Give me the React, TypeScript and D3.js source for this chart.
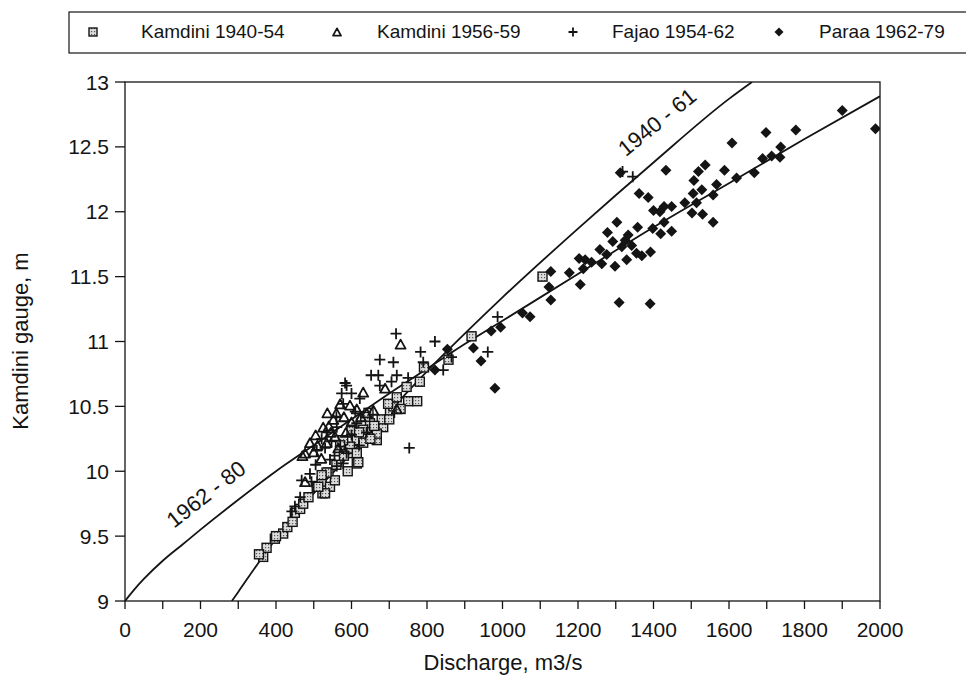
import React from "react";
import * as d3 from "d3";

// ---- data ----
const kam4054Q = [366,375,397,419,430,444,450,464,472,486,508,521,539,523,543,556,614,918,857,781,750,774,667,618,684,702,711,720,746,649,645,631,614,596,667,680,697,534,530,521,512,596,578,614,631,600,636,1106,355,400,792,560,580,590,650,660,700,730,620,570];
const kam4054H = [9.34,9.41,9.48,9.52,9.57,9.61,9.68,9.71,9.75,9.80,9.88,9.92,9.99,9.83,9.88,9.93,10.06,11.04,10.86,10.69,10.54,10.54,10.24,10.07,10.34,10.45,10.50,10.57,10.65,10.37,10.45,10.32,10.24,10.19,10.29,10.40,10.52,9.99,9.83,9.97,9.88,10.14,10.24,10.14,10.22,10.32,10.42,11.50,9.36,9.50,10.80,10.05,10.12,10.00,10.25,10.35,10.40,10.48,10.30,10.20];

const kam5659Q = [730,631,689,596,536,580,552,490,477,525,720,614,477,534,556,658,570,505,545,600,640,470,565,510,520,540,585,625,560,500];
const kam5659H = [10.98,10.61,10.64,10.51,10.45,10.42,10.40,10.22,10.14,10.34,10.48,10.48,9.92,10.22,10.27,10.47,10.52,10.28,10.30,10.38,10.45,10.12,10.18,10.20,10.10,10.35,10.30,10.42,10.45,10.15];

const fajQ = [718,821,783,675,711,790,652,671,720,750,706,675,587,574,600,843,753,622,614,578,561,534,521,508,547,570,587,543,561,578,468,494,464,450,442,987,961,865,583,1318,1345,530,555,600,620,640,505,490,560,610];
const fajH = [11.06,11.0,10.92,10.86,10.84,10.84,10.74,10.74,10.74,10.72,10.69,10.66,10.66,10.60,10.60,10.78,10.18,10.56,10.37,10.52,10.34,10.30,10.25,10.16,10.23,10.19,10.14,10.09,10.04,10.06,9.93,9.92,9.80,9.73,9.69,11.19,10.92,10.88,10.68,12.31,12.27,10.18,10.12,10.28,10.20,10.30,10.05,9.98,10.42,10.46];

const paraaQ = [821,854,923,943,970,995,980,1053,1073,1128,1123,1128,1177,1206,1203,1219,1236,1214,1258,1263,1276,1298,1292,1278,1303,1309,1391,1316,1325,1333,1342,1329,1355,1369,1358,1392,1398,1419,1448,1428,1400,1417,1428,1448,1362,1386,1483,1900,1988,1777,1698,1737,1735,1713,1689,1667,1608,1588,1620,1537,1519,1507,1528,1505,1514,1502,1530,1558,1567,1558,1433,1312];
const paraaH = [10.78,10.94,10.95,10.85,11.08,11.11,10.64,11.22,11.19,11.54,11.42,11.32,11.53,11.44,11.64,11.63,11.61,11.56,11.71,11.60,11.67,11.58,11.77,11.84,11.92,11.30,11.29,11.73,11.78,11.82,11.74,11.63,11.68,11.66,11.88,11.69,11.87,11.83,11.85,11.92,12.01,12.00,12.04,12.04,12.14,12.11,12.07,12.78,12.64,12.63,12.61,12.50,12.42,12.43,12.41,12.30,12.53,12.32,12.26,12.36,12.31,12.24,12.17,12.14,12.07,11.99,11.98,11.92,12.21,12.13,12.32,12.30];

// rating curves
const curve6280Q = [0,25,50,100,150,200,300,400,500,600,700,800,900,1000,1200,1400,1600,1800,2000];
const curve6280H = [9.0,9.09,9.17,9.31,9.43,9.55,9.78,10.0,10.2,10.4,10.6,10.79,10.98,11.16,11.52,11.88,12.22,12.56,12.89];
const curve4061Q = [283,300,350,400,500,600,700,800,900,1000,1200,1400,1600,1661];
const curve4061H = [9.0,9.07,9.28,9.48,9.83,10.14,10.46,10.77,11.06,11.34,11.87,12.38,12.87,13.0];

const xTicksMajor = [0,200,400,600,800,1000,1200,1400,1600,1800,2000];
const xTicksMinor = [0,100,200,300,400,500,600,700,800,900,1000,1100,1200,1300,1400,1500,1600,1700,1800,1900,2000];
const yTicks = [9,9.5,10,10.5,11,11.5,12,12.5,13];
const yTickLabels = ["9","9.5","10","10.5","11","11.5","12","12.5","13"];

const legendLabels = ["Kamdini 1940-54","Kamdini 1956-59","Fajao 1954-62","Paraa 1962-79"];

const FONT = "'Liberation Sans', Arial, Helvetica, sans-serif";
const INK = "#141414";

const x = d3.scaleLinear().domain([0, 2000]).range([125, 880]);
const y = d3.scaleLinear().domain([9, 13]).range([601, 82]);

function Square({ cx, cy, s = 9 }: { cx: number; cy: number; s?: number }) {
  return <rect x={cx - s / 2} y={cy - s / 2} width={s} height={s} fill="url(#speck)" stroke={INK} strokeWidth={1.4} />;
}
function Tri({ cx, cy, s = 10 }: { cx: number; cy: number; s?: number }) {
  const h = s * 0.9;
  return (
    <path d={`M${cx},${cy - h / 2}L${cx + s / 2},${cy + h / 2}L${cx - s / 2},${cy + h / 2}Z`} fill="none" stroke={INK} strokeWidth={1.8} strokeLinejoin="round" />
  );
}
function Plus({ cx, cy, s = 11 }: { cx: number; cy: number; s?: number }) {
  return <path d={`M${cx - s / 2},${cy}H${cx + s / 2}M${cx},${cy - s / 2}V${cy + s / 2}`} stroke={INK} strokeWidth={1.8} fill="none" />;
}
function Diamond({ cx, cy, s = 11 }: { cx: number; cy: number; s?: number }) {
  const r = s / 2;
  return <path d={`M${cx},${cy - r}L${cx + r},${cy}L${cx},${cy + r}L${cx - r},${cy}Z`} fill={INK} />;
}

export default function App() {
  const line = d3.line<[number, number]>().x((d) => x(d[0])).y((d) => y(d[1])).curve(d3.curveMonotoneX);
  const c6280 = line(curve6280Q.map((q, i) => [q, curve6280H[i]] as [number, number])) || "";
  const c4061 = line(curve4061Q.map((q, i) => [q, curve4061H[i]] as [number, number])) || "";

  const legendMarkX = [93, 337, 573, 779];
  const legendTextX = [141, 377, 612, 819];

  return (
    <svg width={966} height={678} style={{ position: "absolute", left: 0, top: 0, background: "#fff" }} fontFamily={FONT}>
      <defs>
        <pattern id="speck" width="3" height="3" patternUnits="userSpaceOnUse">
          <rect width="3" height="3" fill="#dcdcdc" />
          <rect x="1" y="1" width="1.2" height="1.2" fill="#555" />
        </pattern>
        <clipPath id="plotclip">
          <rect x={125} y={82} width={755} height={519} />
        </clipPath>
      </defs>
      <rect width={966} height={678} fill="#fff" />

      {/* legend */}
      <rect x={69} y={12} width={905} height={41} fill="none" stroke={INK} strokeWidth={1.2} />
      <Square cx={legendMarkX[0]} cy={32} s={8} />
      <Tri cx={legendMarkX[1]} cy={32} s={8} />
      <Plus cx={legendMarkX[2]} cy={32} s={9} />
      <Diamond cx={legendMarkX[3]} cy={32} s={9} />
      {legendLabels.map((t, i) => (
        <text key={t} x={legendTextX[i]} y={38} fontSize={19} fill={INK}>{t}</text>
      ))}

      {/* frame */}
      <rect x={125} y={82} width={755} height={519} fill="none" stroke={INK} strokeWidth={1.3} />

      {/* y ticks */}
      {yTicks.map((t, i) => (
        <g key={t}>
          <line x1={115} x2={125} y1={y(t)} y2={y(t)} stroke={INK} strokeWidth={1.3} />
          <text x={109} y={y(t)} dy="0.36em" textAnchor="end" fontSize={21} fill={INK}>{yTickLabels[i]}</text>
        </g>
      ))}
      {/* x ticks */}
      {xTicksMinor.map((t) => (
        <line key={t} x1={x(t)} x2={x(t)} y1={601} y2={609} stroke={INK} strokeWidth={1.3} />
      ))}
      {xTicksMajor.map((t) => (
        <text key={t} x={x(t)} y={637} textAnchor="middle" fontSize={21} fill={INK}>{t}</text>
      ))}

      {/* axis titles */}
      <text x={503} y={670} textAnchor="middle" fontSize={22} fill={INK}>Discharge, m3/s</text>
      <text transform={`translate(28,341) rotate(-90)`} textAnchor="middle" fontSize={22} fill={INK}>Kamdini gauge, m</text>

      <g clipPath="url(#plotclip)">
        {/* curves */}
        <path d={c6280} fill="none" stroke={INK} strokeWidth={1.8} />
        <path d={c4061} fill="none" stroke={INK} strokeWidth={1.8} />

        {/* points */}
        {kam4054Q.map((q, i) => <Square key={"s" + i} cx={x(q)} cy={y(kam4054H[i])} />)}
        {kam5659Q.map((q, i) => <Tri key={"t" + i} cx={x(q)} cy={y(kam5659H[i])} />)}
        {fajQ.map((q, i) => <Plus key={"p" + i} cx={x(q)} cy={y(fajH[i])} />)}
        {paraaQ.map((q, i) => <Diamond key={"d" + i} cx={x(q)} cy={y(paraaH[i])} />)}
      </g>

      {/* curve labels */}
      <text transform={`translate(206,494) rotate(-38)`} textAnchor="middle" dy="0.35em" fontSize={22} fill={INK}>1962 - 80</text>
      <text transform={`translate(657,122) rotate(-39)`} textAnchor="middle" dy="0.35em" fontSize={22} fill={INK}>1940 - 61</text>
    </svg>
  );
}
